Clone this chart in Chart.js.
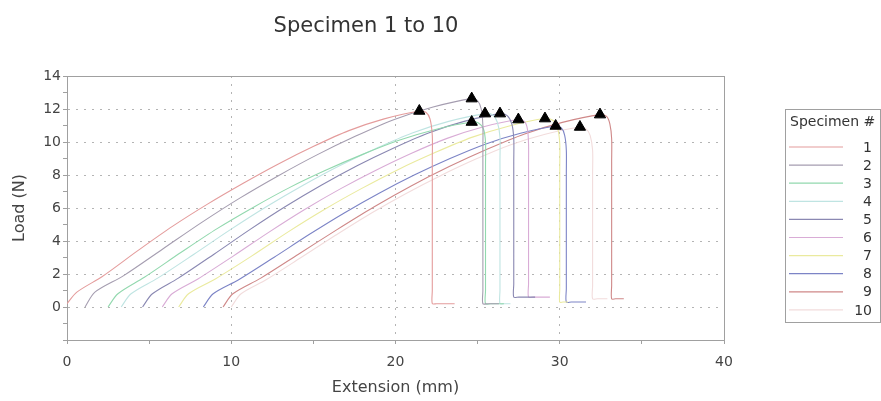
<!DOCTYPE html>
<html>
<head>
<meta charset="utf-8">
<title>Specimen 1 to 10</title>
<script src="https://cdn.jsdelivr.net/npm/chart.js@4/dist/chart.umd.min.js"></script>
<style>
    body { margin: 0; background: #fff; }
    #chart-container { width: 881px; height: 401px; }
</style>
</head>
<body>
<div id="chart-container">
    <canvas id="specimen-chart" width="881" height="401"></canvas>
</div>
<script>
const TITLE = 'Specimen 1 to 10';
const LEGEND_TITLE = 'Specimen #';
const SPECIMENS = ['1', '2', '3', '4', '5', '6', '7', '8', '9', '10'];
const COLORS = ['#e49c9c', '#a59db0', '#92d8ae', '#bfe4e2', '#8a88b2',
                '#d9acd6', '#eaea9e', '#7c84c6', '#cf8888', '#f2dcdc'];

// extension (mm) / load (N) per specimen
const ext1 = [0, 0.6, 2.15, 4.29, 6.44, 8.58, 10.73, 12.87, 15.02, 17.16, 19.31, 21.45, 21.85, 22.1, 22.24, 22.24, 22.24, 22.24, 22.5, 23.6];
const load1 = [0.2, 0.9, 1.85, 3.4, 4.9, 6.25, 7.5, 8.67, 9.74, 10.69, 11.4, 11.88, 11.8, 11.4, 10.4, 9.0, 1.0, 0.2, 0.2, 0.2];
const ext2 = [1.1, 1.7, 3.45, 5.81, 8.16, 10.52, 12.87, 15.22, 17.58, 19.93, 22.29, 24.64, 25.0, 25.22, 25.32, 25.32, 25.32, 25.32, 25.6, 26.3];
const load2 = [0, 0.9, 1.9, 3.5, 5.1, 6.6, 7.96, 9.22, 10.36, 11.37, 12.12, 12.63, 12.5, 12.0, 11.0, 9.6, 1.0, 0.2, 0.2, 0.2];
const ext3 = [2.5, 3.1, 4.71, 6.93, 9.14, 11.36, 13.57, 15.78, 18.0, 20.21, 22.43, 24.64, 25.05, 25.35, 25.48, 25.48, 25.48, 25.48, 25.8, 26.6];
const load3 = [0, 0.8, 1.8, 3.3, 4.75, 6.05, 7.25, 8.3, 9.25, 10.1, 10.76, 11.21, 11.15, 10.8, 10.0, 8.6, 1.0, 0.2, 0.2, 0.2];
const ext4 = [3.3, 3.9, 5.52, 7.73, 9.95, 12.16, 14.38, 16.59, 18.81, 21.02, 23.24, 25.45, 25.9, 26.2, 26.36, 26.36, 26.36, 26.36, 26.6, 27.0];
const load4 = [0, 0.8, 1.75, 3.2, 4.69, 6.09, 7.38, 8.56, 9.61, 10.55, 11.25, 11.72, 11.65, 11.2, 10.3, 8.9, 1.0, 0.2, 0.2, 0.2];
const ext5 = [4.6, 5.2, 6.78, 8.95, 11.13, 13.3, 15.48, 17.66, 19.83, 22.01, 24.18, 26.36, 26.8, 27.08, 27.2, 27.2, 27.2, 27.2, 27.5, 28.5];
const load5 = [0, 0.8, 1.75, 3.2, 4.69, 6.09, 7.38, 8.56, 9.61, 10.55, 11.25, 11.72, 11.6, 11.1, 10.2, 8.8, 1.4, 0.6, 0.6, 0.6];
const ext6 = [5.8, 6.4, 7.97, 10.14, 12.3, 14.47, 16.64, 18.81, 20.98, 23.14, 25.31, 27.48, 27.85, 28.03, 28.1, 28.1, 28.1, 28.1, 28.4, 29.4];
const load6 = [0, 0.8, 1.7, 3.1, 4.54, 5.91, 7.16, 8.29, 9.32, 10.22, 10.91, 11.36, 11.25, 10.8, 9.9, 8.5, 1.4, 0.6, 0.6, 0.6];
const ext7 = [6.8, 7.4, 9.03, 11.26, 13.49, 15.72, 17.95, 20.18, 22.41, 24.64, 26.87, 29.1, 29.6, 29.88, 30.0, 30.0, 30.0, 30.0, 30.2, 30.5];
const load7 = [0, 0.8, 1.7, 3.1, 4.57, 5.94, 7.19, 8.34, 9.36, 10.28, 10.96, 11.42, 11.3, 10.8, 9.9, 8.5, 1.1, 0.3, 0.3, 0.3];
const ext8 = [8.3, 8.9, 10.45, 12.59, 14.74, 16.88, 19.03, 21.17, 23.32, 25.46, 27.61, 29.75, 30.1, 30.3, 30.4, 30.4, 30.4, 30.4, 30.7, 31.6];
const load8 = [0, 0.8, 1.65, 3.0, 4.39, 5.7, 6.91, 8.01, 9.0, 9.87, 10.53, 10.97, 10.85, 10.4, 9.5, 8.1, 1.1, 0.3, 0.3, 0.3];
const ext9 = [9.5, 10.1, 11.8, 14.09, 16.39, 18.68, 20.98, 23.27, 25.57, 27.86, 30.16, 32.45, 32.85, 33.05, 33.16, 33.16, 33.16, 33.16, 33.4, 33.9];
const load9 = [0, 0.8, 1.75, 3.2, 4.66, 6.06, 7.35, 8.51, 9.56, 10.49, 11.19, 11.66, 11.55, 11.1, 10.2, 8.8, 1.3, 0.5, 0.5, 0.5];
const ext10 = [10.0, 10.6, 12.12, 14.25, 16.37, 18.49, 20.62, 22.74, 24.86, 26.98, 29.11, 31.23, 31.6, 31.85, 32.0, 32.0, 32.0, 32.0, 32.3, 32.9];
const load10 = [0, 0.8, 1.65, 3.0, 4.36, 5.67, 6.87, 7.96, 8.95, 9.82, 10.47, 10.91, 10.8, 10.4, 9.5, 8.1, 1.3, 0.5, 0.5, 0.5];

// peak markers (black triangles)
const peakExt = [21.45, 24.64, 24.64, 25.45, 26.36, 27.48, 29.1, 29.75, 32.45, 31.23];
const peakLoad = [11.88, 12.63, 11.21, 11.72, 11.72, 11.36, 11.42, 10.97, 11.66, 10.91];

const X_TICKS = [0, 10, 20, 30, 40];
const Y_TICKS = [0, 2, 4, 6, 8, 10, 12, 14];

const FONT = 'DejaVu Sans, Verdana, sans-serif';
const TEXT_COLOR = '#444';
const AXIS_COLOR = '#a0a0a0';
const GRID_COLOR = '#b4b4b4';

const extList = [ext1, ext2, ext3, ext4, ext5, ext6, ext7, ext8, ext9, ext10];
const loadList = [load1, load2, load3, load4, load5, load6, load7, load8, load9, load10];

function toPoints(xs, ys) {
    return xs.map((x, i) => ({x: x, y: ys[i]}));
}

function buildDatasets() {
    var datasets = [];
    datasets.push({
        label: 'peaks',
        data: toPoints(peakExt, peakLoad),
        showLine: false,
        pointStyle: 'triangle',
        pointRadius: 6.5,
        backgroundColor: '#000',
        borderColor: '#000',
        borderWidth: 1,
        order: -1,
    });
    for (var i = 0; i < SPECIMENS.length; i++) {
        datasets.push({
            label: SPECIMENS[i],
            data: toPoints(extList[i], loadList[i]),
            showLine: true,
            borderColor: COLORS[i],
            backgroundColor: COLORS[i],
            borderWidth: 1.1,
            pointRadius: 0,
            tension: 0.3,
        });
    }
    return datasets;
}

/******************* plugins *********************/

// chart title, sits over the plot a bit left of centre
const titlePlugin = {
    id: 'plotTitle',
    afterDraw(chart) {
        var ctx = chart.ctx;
        ctx.save();
        ctx.font = '21px ' + FONT;
        ctx.fillStyle = '#333';
        ctx.textAlign = 'center';
        ctx.textBaseline = 'middle';
        ctx.fillText(TITLE, 366, 27);
        ctx.restore();
    }
};

// boxed legend on the right: line sample, number right-aligned
const boxLegendPlugin = {
    id: 'boxLegend',
    afterDraw(chart) {
        var ctx = chart.ctx;
        var left = 785, top = 109, width = 95, height = 213;
        ctx.save();
        ctx.strokeStyle = AXIS_COLOR;
        ctx.lineWidth = 1;
        ctx.strokeRect(left + 0.5, top + 0.5, width, height);

        ctx.font = '14px ' + FONT;
        ctx.fillStyle = '#333';
        ctx.textBaseline = 'middle';
        ctx.textAlign = 'left';
        ctx.fillText(LEGEND_TITLE, left + 5, top + 13);

        var sets = chart.data.datasets.filter(d => d.label !== 'peaks');
        sets.forEach((d, i) => {
            var y = top + 38 + i * 18.1;
            ctx.strokeStyle = d.borderColor;
            ctx.lineWidth = 1.2;
            ctx.beginPath();
            ctx.moveTo(left + 4, y);
            ctx.lineTo(left + 58, y);
            ctx.stroke();
            ctx.textAlign = 'right';
            ctx.fillText(d.label, left + 87, y + 1);
        });
        ctx.restore();
    }
};

/******************* chart *********************/

function tickFont() {
    return {family: FONT, size: 14};
}

function createChart() {
    var ctx = document.getElementById('specimen-chart').getContext('2d');
    return new Chart(ctx, {
        type: 'scatter',
        data: {datasets: buildDatasets()},
        plugins: [titlePlugin, boxLegendPlugin],
        options: {
            responsive: false,
            animation: false,
            devicePixelRatio: 1,
            layout: {padding: {top: 76, right: 157, bottom: 0, left: 0}},
            plugins: {
                legend: {display: false},
                title: {display: false},
                tooltip: {enabled: false},
            },
            scales: {
                x: {
                    type: 'linear',
                    min: 0,
                    max: 40,
                    afterFit: (s) => { s.height = 61; },
                    afterBuildTicks: (s) => {
                        s.ticks = [0, 5, 10, 15, 20, 25, 30, 35, 40].map(v => ({value: v}));
                    },
                    ticks: {
                        font: tickFont(),
                        color: TEXT_COLOR,
                        padding: 10,
                        maxRotation: 0,
                        autoSkip: false,
                        callback: (v) => X_TICKS.includes(v) ? String(v) : '',
                    },
                    grid: {
                        color: (c) => (c.tick && c.tick.value % 10 === 0 && c.tick.value > 0 && c.tick.value < 40) ? GRID_COLOR : 'rgba(0,0,0,0)',
                        tickColor: AXIS_COLOR,
                        tickLength: 4,
                        lineWidth: 1,
                    },
                    border: {color: AXIS_COLOR, dash: [2, 6]},
                    title: {
                        display: true,
                        text: 'Extension (mm)',
                        font: {family: FONT, size: 16},
                        color: TEXT_COLOR,
                        padding: {top: 0, bottom: 4},
                    },
                },
                y: {
                    type: 'linear',
                    min: -2,
                    max: 14,
                    afterFit: (s) => { s.width = 67; },
                    afterBuildTicks: (s) => {
                        var t = [];
                        for (var v = -2; v <= 14; v++) t.push({value: v});
                        s.ticks = t;
                    },
                    ticks: {
                        font: tickFont(),
                        color: TEXT_COLOR,
                        padding: 2,
                        autoSkip: false,
                        callback: (v) => Y_TICKS.includes(v) ? String(v) : '',
                    },
                    grid: {
                        color: (c) => (c.tick && Y_TICKS.includes(c.tick.value) && c.tick.value < 14) ? GRID_COLOR : 'rgba(0,0,0,0)',
                        tickColor: AXIS_COLOR,
                        tickLength: 4,
                        lineWidth: 1,
                    },
                    border: {color: AXIS_COLOR, dash: [2, 6]},
                    title: {
                        display: true,
                        text: 'Load (N)',
                        font: {family: FONT, size: 16},
                        color: TEXT_COLOR,
                        padding: {top: 10, bottom: 0},
                    },
                },
                // top and right edges of the plot frame
                xTop: {
                    type: 'linear',
                    position: 'top',
                    min: 0,
                    max: 40,
                    afterFit: (s) => { s.height = 0; },
                    ticks: {display: false},
                    grid: {display: false},
                    border: {color: AXIS_COLOR},
                },
                yRight: {
                    type: 'linear',
                    position: 'right',
                    min: -2,
                    max: 14,
                    afterFit: (s) => { s.width = 0; },
                    ticks: {display: false},
                    grid: {display: false},
                    border: {color: AXIS_COLOR},
                },
            },
        },
    });
}

createChart();
</script>
</body>
</html>
